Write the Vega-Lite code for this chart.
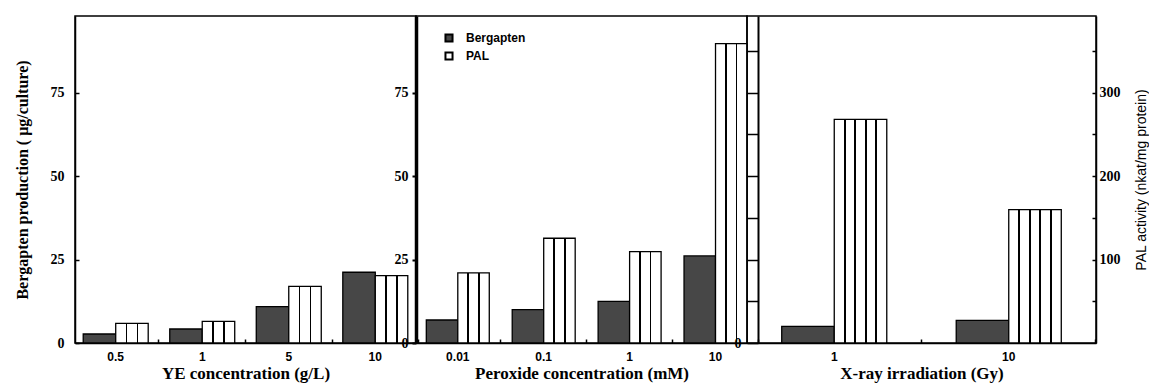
{
  "$schema": "https://vega.github.io/schema/vega-lite/v6.json",
  "padding": {"left": 13, "top": 15, "right": 0, "bottom": 0},
  "autosize": {"type": "pad"},
  "background": "white",
  "config": {
    "view": {"stroke": "black", "strokeWidth": 1.5},
    "axis": {
      "grid": false,
      "domainColor": "black",
      "tickColor": "black",
      "labelColor": "black",
      "titleColor": "black",
      "labelFont": "Liberation Serif",
      "labelFontWeight": "bold",
      "labelFontSize": 14,
      "titleFont": "Liberation Serif",
      "titleFontWeight": "bold",
      "domainWidth": 1.5,
      "tickWidth": 1.5
    },
    "axisX": {
      "labelFont": "Liberation Sans",
      "labelFontSize": 12,
      "labelAngle": 0,
      "tickSize": -4,
      "labelPadding": 12.5,
      "titleFontSize": 17,
      "titlePadding": 3
    }
  },
  "data": {
    "values": [
      {"panel": "YE", "cat": "0.5", "series": "Bergapten", "value": 2.7},
      {"panel": "YE", "cat": "0.5", "series": "PAL", "value": 23.6},
      {"panel": "YE", "cat": "1", "series": "Bergapten", "value": 4.2},
      {"panel": "YE", "cat": "1", "series": "PAL", "value": 26},
      {"panel": "YE", "cat": "5", "series": "Bergapten", "value": 10.9},
      {"panel": "YE", "cat": "5", "series": "PAL", "value": 68},
      {"panel": "YE", "cat": "10", "series": "Bergapten", "value": 21.2},
      {"panel": "YE", "cat": "10", "series": "PAL", "value": 80.8},
      {"panel": "Peroxide", "cat": "0.01", "series": "Bergapten", "value": 6.9},
      {"panel": "Peroxide", "cat": "0.01", "series": "PAL", "value": 84},
      {"panel": "Peroxide", "cat": "0.1", "series": "Bergapten", "value": 10.0},
      {"panel": "Peroxide", "cat": "0.1", "series": "PAL", "value": 125.6},
      {"panel": "Peroxide", "cat": "1", "series": "Bergapten", "value": 12.5},
      {"panel": "Peroxide", "cat": "1", "series": "PAL", "value": 109.6},
      {"panel": "Peroxide", "cat": "10", "series": "Bergapten", "value": 26.1},
      {"panel": "Peroxide", "cat": "10", "series": "PAL", "value": 358.8},
      {"panel": "Xray", "cat": "1", "series": "Bergapten", "value": 5.0},
      {"panel": "Xray", "cat": "1", "series": "PAL", "value": 268},
      {"panel": "Xray", "cat": "10", "series": "Bergapten", "value": 6.8},
      {"panel": "Xray", "cat": "10", "series": "PAL", "value": 160}
    ]
  },
  "spacing": 0,
  "bounds": "flush",
  "resolve": {
    "scale": {"x": "independent", "y": "independent", "color": "independent", "xOffset": "independent"},
    "legend": {"color": "independent"}
  },
  "hconcat": [
    {
      "width": 341,
      "height": 327,
      "resolve": {"scale": {"y": "independent"}},
      "layer": [
        {
          "transform": [{"filter": "datum.panel == 'YE' && datum.series == 'Bergapten'"}],
          "mark": {"type": "bar", "stroke": "black", "strokeWidth": 1.3},
          "encoding": {
            "x": {"field": "cat", "type": "nominal", "scale": {"domain": ["0.5", "1", "5", "10"], "paddingInner": 0.249, "paddingOuter": 0.095},
                  "axis": {"title": "YE concentration (g/L)", "bandPosition": 1.166}},
            "xOffset": {"field": "series", "scale": {"domain": ["Bergapten", "PAL"]}},
            "y": {"field": "value", "type": "quantitative", "scale": {"domain": [0, 98], "nice": false},
                  "axis": {"title": "Bergapten production ( μg/culture)", "titleFontSize": 16, "values": [0, 25, 50, 75], "tickSize": -4, "labelPadding": 15, "titlePadding": 20}},
            "color": {"field": "series", "scale": {"domain": ["Bergapten", "PAL"], "range": ["#474747", "#ffffff"]}, "legend": null}
          }
        },
        {
          "transform": [{"filter": "datum.panel == 'YE' && datum.series == 'PAL'"}],
          "mark": {"type": "bar", "stroke": "black", "strokeWidth": 1.3,
                   "fill": {"gradient": "linear", "x1": 0, "y1": 0, "x2": 1, "y2": 0,
                            "stops": [
                              {"offset": 0, "color": "white"}, {"offset": 0.305, "color": "white"},
                              {"offset": 0.305, "color": "black"}, {"offset": 0.36, "color": "black"},
                              {"offset": 0.36, "color": "white"}, {"offset": 0.64, "color": "white"},
                              {"offset": 0.64, "color": "black"}, {"offset": 0.695, "color": "black"},
                              {"offset": 0.695, "color": "white"}, {"offset": 1, "color": "white"}]}},
          "encoding": {
            "x": {"field": "cat", "type": "nominal", "scale": {"domain": ["0.5", "1", "5", "10"], "paddingInner": 0.249, "paddingOuter": 0.095},
                  "axis": {"title": "YE concentration (g/L)", "bandPosition": 1.166}},
            "xOffset": {"field": "series", "scale": {"domain": ["Bergapten", "PAL"]}},
            "y": {"field": "value", "type": "quantitative", "scale": {"domain": [0, 392], "nice": false}, "axis": null}
          }
        }
      ]
    },
    {
      "width": 331,
      "height": 327,
      "resolve": {"scale": {"y": "independent"}},
      "layer": [
        {
          "transform": [{"filter": "datum.panel == 'Peroxide' && datum.series == 'Bergapten'"}],
          "mark": {"type": "bar", "stroke": "black", "strokeWidth": 1.3},
          "encoding": {
            "x": {"field": "cat", "type": "nominal", "scale": {"domain": ["0.01", "0.1", "1", "10"], "paddingInner": 0.267, "paddingOuter": 0.06, "align": 1},
                  "axis": {"title": "Peroxide concentration (mM)", "bandPosition": 1.182}},
            "xOffset": {"field": "series", "scale": {"domain": ["Bergapten", "PAL"]}},
            "y": {"field": "value", "type": "quantitative", "scale": {"domain": [0, 98], "nice": false},
                  "axis": {"title": null, "values": [0, 25, 50, 75], "tickSize": 4, "labelPadding": 4, "domainWidth": 3.5, "tickWidth": 2}},
            "color": {"field": "series", "scale": {"domain": ["Bergapten", "PAL"], "range": ["#474747", "#ffffff"]},
                      "legend": {"orient": "none", "legendX": 27, "legendY": 16, "title": null, "padding": 0,
                                 "symbolType": "square", "symbolSize": 50, "symbolStrokeColor": "black", "symbolStrokeWidth": 2,
                                 "labelFont": "Liberation Sans", "labelFontWeight": "bold", "labelFontSize": 12, "labelColor": "black",
                                 "rowPadding": 2, "labelOffset": 11}}
          }
        },
        {
          "transform": [{"filter": "datum.panel == 'Peroxide' && datum.series == 'PAL'"}],
          "mark": {"type": "bar", "stroke": "black", "strokeWidth": 1.3,
                   "fill": {"gradient": "linear", "x1": 0, "y1": 0, "x2": 1, "y2": 0,
                            "stops": [
                              {"offset": 0, "color": "white"}, {"offset": 0.305, "color": "white"},
                              {"offset": 0.305, "color": "black"}, {"offset": 0.36, "color": "black"},
                              {"offset": 0.36, "color": "white"}, {"offset": 0.64, "color": "white"},
                              {"offset": 0.64, "color": "black"}, {"offset": 0.695, "color": "black"},
                              {"offset": 0.695, "color": "white"}, {"offset": 1, "color": "white"}]}},
          "encoding": {
            "x": {"field": "cat", "type": "nominal", "scale": {"domain": ["0.01", "0.1", "1", "10"], "paddingInner": 0.267, "paddingOuter": 0.06, "align": 1},
                  "axis": {"title": "Peroxide concentration (mM)", "bandPosition": 1.182}},
            "xOffset": {"field": "series", "scale": {"domain": ["Bergapten", "PAL"]}},
            "y": {"field": "value", "type": "quantitative", "scale": {"domain": [0, 392], "nice": false}, "axis": null}
          }
        }
      ]
    },
    {
      "width": 349,
      "height": 327,
      "resolve": {"scale": {"y": "independent"}},
      "layer": [
        {
          "transform": [{"filter": "datum.panel == 'Xray' && datum.series == 'Bergapten'"}],
          "mark": {"type": "bar", "stroke": "black", "strokeWidth": 1.3},
          "encoding": {
            "x": {"field": "cat", "type": "nominal", "scale": {"domain": ["1", "10"], "paddingInner": 0.398, "paddingOuter": 0.199},
                  "axis": {"title": "X-ray irradiation (Gy)", "bandPosition": 1.33}},
            "xOffset": {"field": "series", "scale": {"domain": ["Bergapten", "PAL"]}},
            "y": {"field": "value", "type": "quantitative", "scale": {"domain": [0, 98], "nice": false},
                  "axis": {"title": null, "orient": "left", "offset": -11, "values": [0, 12.5, 25, 37.5, 50, 62.5, 75, 87.5],
                           "labelExpr": "datum.value == 0 ? '0' : ''", "tickSize": 11, "labelPadding": 6, "domainWidth": 2}},
            "color": {"field": "series", "scale": {"domain": ["Bergapten", "PAL"], "range": ["#474747", "#ffffff"]}, "legend": null}
          }
        },
        {
          "transform": [{"filter": "datum.panel == 'Xray' && datum.series == 'PAL'"}],
          "mark": {"type": "bar", "stroke": "black", "strokeWidth": 1.3,
                   "fill": {"gradient": "linear", "x1": 0, "y1": 0, "x2": 1, "y2": 0,
                            "stops": [
                              {"offset": 0, "color": "white"}, {"offset": 0.185, "color": "white"},
                              {"offset": 0.185, "color": "black"}, {"offset": 0.22, "color": "black"},
                              {"offset": 0.22, "color": "white"}, {"offset": 0.385, "color": "white"},
                              {"offset": 0.385, "color": "black"}, {"offset": 0.42, "color": "black"},
                              {"offset": 0.42, "color": "white"}, {"offset": 0.585, "color": "white"},
                              {"offset": 0.585, "color": "black"}, {"offset": 0.62, "color": "black"},
                              {"offset": 0.62, "color": "white"}, {"offset": 0.785, "color": "white"},
                              {"offset": 0.785, "color": "black"}, {"offset": 0.82, "color": "black"},
                              {"offset": 0.82, "color": "white"}, {"offset": 1, "color": "white"}]}},
          "encoding": {
            "x": {"field": "cat", "type": "nominal", "scale": {"domain": ["1", "10"], "paddingInner": 0.398, "paddingOuter": 0.199},
                  "axis": {"title": "X-ray irradiation (Gy)", "bandPosition": 1.33}},
            "xOffset": {"field": "series", "scale": {"domain": ["Bergapten", "PAL"]}},
            "y": {"field": "value", "type": "quantitative", "scale": {"domain": [0, 392], "nice": false},
                  "axis": {"title": "PAL activity (nkat/mg protein)", "orient": "right", "values": [50, 100, 150, 200, 250, 300, 350],
                           "labelExpr": "datum.value % 100 == 0 ? datum.label : ''", "tickSize": -4, "labelPadding": 7,
                           "titleFont": "Liberation Sans", "titleFontWeight": "normal", "titleFontSize": 14, "titleAngle": 270,
                           "titleBaseline": "top", "titlePadding": 14}}
          }
        }
      ]
    }
  ]
}
